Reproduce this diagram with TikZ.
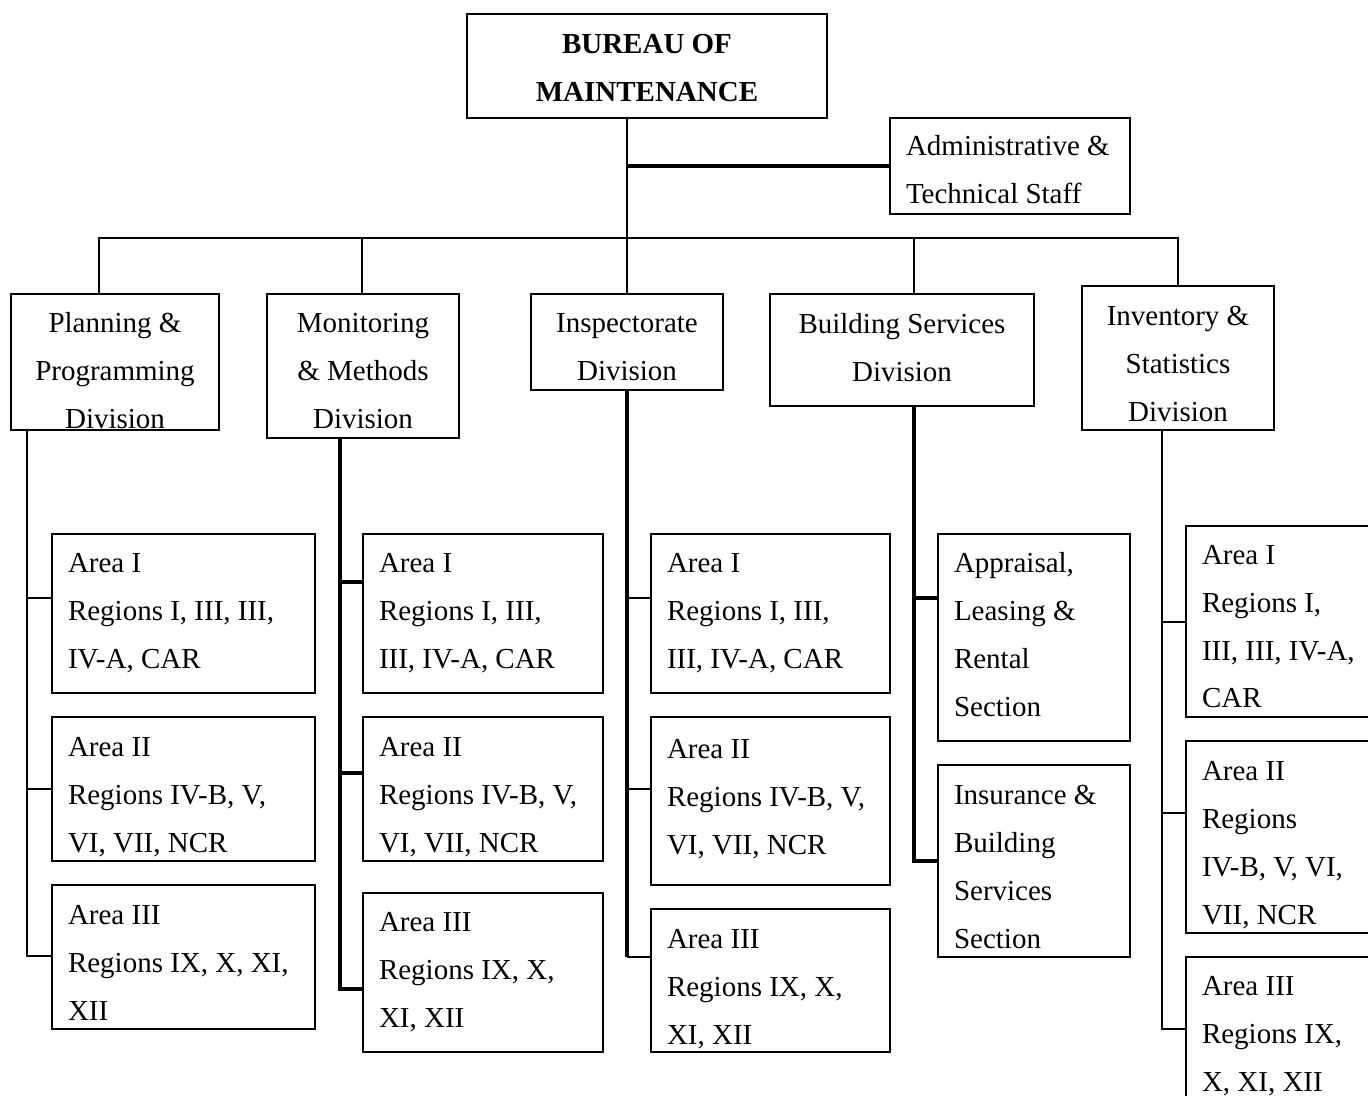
\documentclass[tikz,border=0pt]{standalone}
\usepackage{fontspec}
\setmainfont{Liberation Serif}
\usetikzlibrary{positioning}
\tikzset{box/.style={draw, line width=1.1pt, inner ysep=0pt, inner xsep=0.32cm, font=\fontsize{16.5}{27.3}\selectfont, execute at begin node={\spaceskip=0.25em\relax}}}
\tikzset{cbox/.style={box, align=center}}
\tikzset{lbox/.style={box, align=left}}
\tikzset{thinline/.style={line width=1.1pt}}
\tikzset{thickline/.style={line width=2.3pt}}
\newcommand\tdn[1]{\rule{0pt}{\dimexpr11pt+0.04cm*#1\relax}}
\newcommand\tup[1]{\rule[-\dimexpr0.04cm*#1\relax]{0pt}{0pt}}

\begin{document}
\begin{tikzpicture}[x=0.02cm,y=-0.02cm]
      \useasboundingbox (0,0) rectangle (1368,1095);
      \clip (0,0) rectangle (1368,1095);
      % top
      \node[cbox, minimum width=7.2cm, minimum height=2.08cm, font=\fontsize{16.5}{27.3}\selectfont\bfseries] (bureau) at (647,66) {\tdn{2}BUREAU OF\\MAINTENANCE};
      \node[lbox, minimum width=4.8cm, minimum height=1.92cm, text width=4.16cm] (admin) at (1010,166) {\tdn{4}Administrative \&\\Technical Staff};
      % divisions
      \node[cbox, minimum width=4.16cm, minimum height=2.72cm] (plan) at (115,362) {\tdn{9}Planning \&\\Programming\\Division};
      \node[cbox, minimum width=3.84cm, minimum height=2.88cm] (mon) at (363,366) {\tdn{5}Monitoring\\\& Methods\\Division};
      \node[cbox, minimum width=3.84cm, minimum height=1.92cm] (insp) at (627,342) {\tdn{5}Inspectorate\\Division};
      \node[cbox, minimum width=5.28cm, minimum height=2.24cm] (build) at (902,350) {Building Services\\Division\tup{3}};
      \node[cbox, minimum width=3.84cm, minimum height=2.88cm] (inv) at (1178,358) {\tdn{6}Inventory \&\\Statistics\\Division};
      % planning areas
      \node[lbox, minimum width=5.26cm, minimum height=3.18cm, text width=4.62cm] (pa1) at (183.5,613.5) {Area I\\Regions I, III, III,\\IV-A, CAR};
      \node[lbox, minimum width=5.26cm, minimum height=2.88cm, text width=4.62cm] (pa2) at (183.5,789) {\tdn{8}Area II\\Regions IV-B, V,\\VI, VII, NCR};
      \node[lbox, minimum width=5.26cm, minimum height=2.88cm, text width=4.62cm] (pa3) at (183.5,957) {\tdn{6}Area III\\Regions IX, X, XI,\\XII};
      % monitoring areas
      \node[lbox, minimum width=4.8cm, minimum height=3.18cm, text width=4.16cm] (ma1) at (483,613.5) {Area I\\Regions I, III,\\III, IV-A, CAR};
      \node[lbox, minimum width=4.8cm, minimum height=2.88cm, text width=4.16cm] (ma2) at (483,789) {\tdn{8}Area II\\Regions IV-B, V,\\VI, VII, NCR};
      \node[lbox, minimum width=4.8cm, minimum height=3.18cm, text width=4.16cm] (ma3) at (483,972.5) {Area III\\Regions IX, X,\\XI, XII};
      % inspectorate areas
      \node[lbox, minimum width=4.78cm, minimum height=3.18cm, text width=4.14cm] (ia1) at (770.5,613.5) {Area I\\Regions I, III,\\III, IV-A, CAR};
      \node[lbox, minimum width=4.78cm, minimum height=3.36cm, text width=4.14cm] (ia2) at (770.5,801) {Area II\\Regions IV-B, V,\\VI, VII, NCR\tup{4}};
      \node[lbox, minimum width=4.78cm, minimum height=2.86cm, text width=4.14cm] (ia3) at (770.5,980.5) {\tdn{9}Area III\\Regions IX, X,\\XI, XII};
      % building sections
      \node[lbox, minimum width=3.84cm, minimum height=4.14cm, text width=3.2cm] (ba1) at (1034,637.5) {Appraisal,\\Leasing \&\\Rental\\Section\tup{3}};
      \node[lbox, minimum width=3.84cm, minimum height=3.84cm, text width=3.2cm] (ba2) at (1034,861) {\tdn{6}Insurance \&\\Building\\Services\\Section};
      % inventory areas
      \node[lbox, minimum width=3.84cm, minimum height=3.82cm, text width=3.2cm] (va1) at (1282,621.5) {\tdn{5}Area I\\Regions I,\\III, III, IV-A,\\CAR};
      \node[lbox, minimum width=3.84cm, minimum height=3.84cm, text width=3.2cm] (va2) at (1282,837) {\tdn{8}Area II\\Regions\\IV-B, V, VI,\\VII, NCR};
      \node[lbox, minimum width=3.84cm, minimum height=3.04cm, text width=3.2cm] (va3) at (1282,1033) {\tdn{3}Area III\\Regions IX,\\X, XI, XII};
      % bus
      \coordinate (busL) at (99,238);
      \coordinate (busR) at (1178,238);
      \coordinate (adm) at (627,166);
      \draw[thinline] (627,0 |- bureau.south) -- (627,0 |- insp.north);
      \draw[thickline] (adm) -- (admin.west |- adm);
      \draw[thinline] (99,0 |- plan.north) -- (busL) -- (busR) -- (inv.north);
      \draw[thinline] (362,0 |- mon.north) -- (362,238);
      \draw[thinline] (914,0 |- build.north) -- (914,238);
      % planning stem
      \draw[thinline] (27,0 |- plan.south) -- (27,956) -- (pa3.west |- 27,956);
      \draw[thinline] (27,598) -- (pa1.west |- 27,598);
      \draw[thinline] (27,789) -- (pa2.west |- 27,789);
      % monitoring stem
      \draw[thickline] (340,0 |- mon.south) -- (340,989) -- (ma3.west |- 340,989);
      \draw[thickline] (340,582) -- (ma1.west |- 340,582);
      \draw[thickline] (340,773) -- (ma2.west |- 340,773);
      % inspectorate stem
      \draw[thickline] (insp.south) -- (627,957);
      \draw[thinline] (627,957) -- (ia3.west |- 627,957);
      \draw[thinline] (627,598) -- (ia1.west |- 627,598);
      \draw[thinline] (627,789) -- (ia2.west |- 627,789);
      % building stem
      \draw[thickline] (914,0 |- build.south) -- (914,861) -- (ba2.west |- 914,861);
      \draw[thickline] (914,598) -- (ba1.west |- 914,598);
      % inventory stem
      \draw[thinline] (1162,0 |- inv.south) -- (1162,1029) -- (va3.west |- 1162,1029);
      \draw[thinline] (1162,622) -- (va1.west |- 1162,622);
      \draw[thinline] (1162,813) -- (va2.west |- 1162,813);
\end{tikzpicture}
\end{document}
